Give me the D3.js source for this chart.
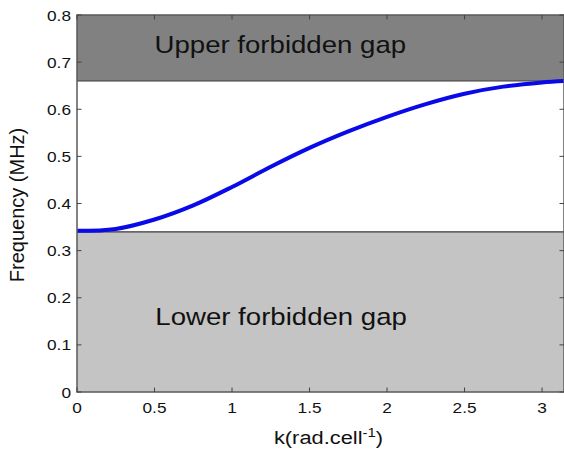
<!DOCTYPE html>
<html>
<head>
<meta charset="utf-8"/>
<title>Dispersion curve</title>
<script src="https://d3js.org/d3.v7.min.js"></script>
<style>
  body { margin: 0; background: #fff; }
  svg text { font-family: "Liberation Sans", Arial, sans-serif; fill: #111; }
</style>
</head>
<body>
<div id="chart"></div>
<script>
// values
var kValues    = [0, 0.25, 0.5, 0.75, 1.0, 1.25, 1.5, 1.75, 2.0, 2.25, 2.5, 2.75, 3.0, 3.1416];
var freqValues = [0.342, 0.346, 0.366, 0.396, 0.435, 0.478, 0.518, 0.553, 0.584, 0.611, 0.633, 0.648, 0.657, 0.660];

var gapEdges = [0.34, 0.66];   // lower gap top, upper gap bottom
var gapLabels = ["Lower forbidden gap", "Upper forbidden gap"];

var xTicks = [0, 0.5, 1, 1.5, 2, 2.5, 3];
var xTickLabels = ["0", "0.5", "1", "1.5", "2", "2.5", "3"];
var yTicks = [0, 0.1, 0.2, 0.3, 0.4, 0.5, 0.6, 0.7, 0.8];
var yTickLabels = ["0", "0.1", "0.2", "0.3", "0.4", "0.5", "0.6", "0.7", "0.8"];

var width = 564, height = 455;
var mLeft = 77, mTop = 15, mRight = 564, mBottom = 392;
var stretch = 1.15;   // the reference is a bit wider than tall

var svg = d3.select("#chart").append("svg")
  .attr("width", width)
  .attr("height", height);

var x = d3.scaleLinear().domain([0, Math.PI]).range([mLeft, mRight]);
var y = d3.scaleLinear().domain([0, 0.8]).range([mBottom, mTop]);

// gap bands
svg.append("rect")
  .attr("x", x(0)).attr("y", y(0.8))
  .attr("width", x(Math.PI) - x(0))
  .attr("height", y(gapEdges[1]) - y(0.8))
  .attr("fill", "#818181");
svg.append("rect")
  .attr("x", x(0)).attr("y", y(gapEdges[0]))
  .attr("width", x(Math.PI) - x(0))
  .attr("height", y(0) - y(gapEdges[0]))
  .attr("fill", "#c4c4c4");

gapEdges.forEach(function(g){
  svg.append("line")
    .attr("x1", x(0)).attr("x2", x(Math.PI))
    .attr("y1", y(g)).attr("y2", y(g))
    .attr("stroke", "#3a3a3a").attr("stroke-width", 1.2);
});

// gap texts
function stretchedText(tx, ty, str, size, anchor){
  return svg.append("text")
    .attr("transform", "translate(" + tx + "," + ty + ") scale(" + stretch + ",1)")
    .attr("text-anchor", anchor || "start")
    .style("font-size", size + "px")
    .text(str);
}
stretchedText(x(0.505), y(0.142), gapLabels[0], 24);
stretchedText(x(0.5), y(0.719), gapLabels[1], 24);

// curve
var line = d3.line()
  .x(function(d, i){ return x(kValues[i]); })
  .y(function(d){ return y(d); })
  .curve(d3.curveCatmullRom);

svg.append("path")
  .datum(freqValues)
  .attr("d", line)
  .attr("fill", "none")
  .attr("stroke", "#0a0ae8")
  .attr("stroke-width", 4);

// frame
svg.append("rect")
  .attr("x", mLeft).attr("y", mTop)
  .attr("width", mRight - mLeft).attr("height", mBottom - mTop)
  .attr("fill", "none")
  .attr("stroke", "#5a5a5a")
  .attr("stroke-width", 1.5);

// ticks (inward, on all four sides)
var tl = 4.5;
xTicks.forEach(function(t, i){
  svg.append("line").attr("x1", x(t)).attr("x2", x(t))
    .attr("y1", mBottom).attr("y2", mBottom - tl)
    .attr("stroke", "#444").attr("stroke-width", 1);
  svg.append("line").attr("x1", x(t)).attr("x2", x(t))
    .attr("y1", mTop).attr("y2", mTop + tl)
    .attr("stroke", "#444").attr("stroke-width", 1);
  stretchedText(x(t), mBottom + 21, xTickLabels[i], 15, "middle");
});
yTicks.forEach(function(t, i){
  svg.append("line").attr("x1", mLeft).attr("x2", mLeft + tl)
    .attr("y1", y(t)).attr("y2", y(t))
    .attr("stroke", "#444").attr("stroke-width", 1);
  svg.append("line").attr("x1", mRight).attr("x2", mRight - tl)
    .attr("y1", y(t)).attr("y2", y(t))
    .attr("stroke", "#444").attr("stroke-width", 1);
  stretchedText(mLeft - 6, y(t) + 5.5, yTickLabels[i], 15, "end");
});

// axis labels
var xl = svg.append("text")
  .attr("transform", "translate(" + ((mLeft + mRight) / 2 + 8) + ",444) scale(" + stretch + ",1)")
  .attr("text-anchor", "middle")
  .style("font-size", "19px");
xl.append("tspan").text("k(rad.cell");
xl.append("tspan").attr("dy", -7).style("font-size", "13px").text("-1");
xl.append("tspan").attr("dy", 7).text(")");

svg.append("text")
  .attr("transform", "translate(24," + 205 + ") rotate(-90)")
  .attr("text-anchor", "middle")
  .style("font-size", "20px")
  .text("Frequency (MHz)");
</script>
</body>
</html>
